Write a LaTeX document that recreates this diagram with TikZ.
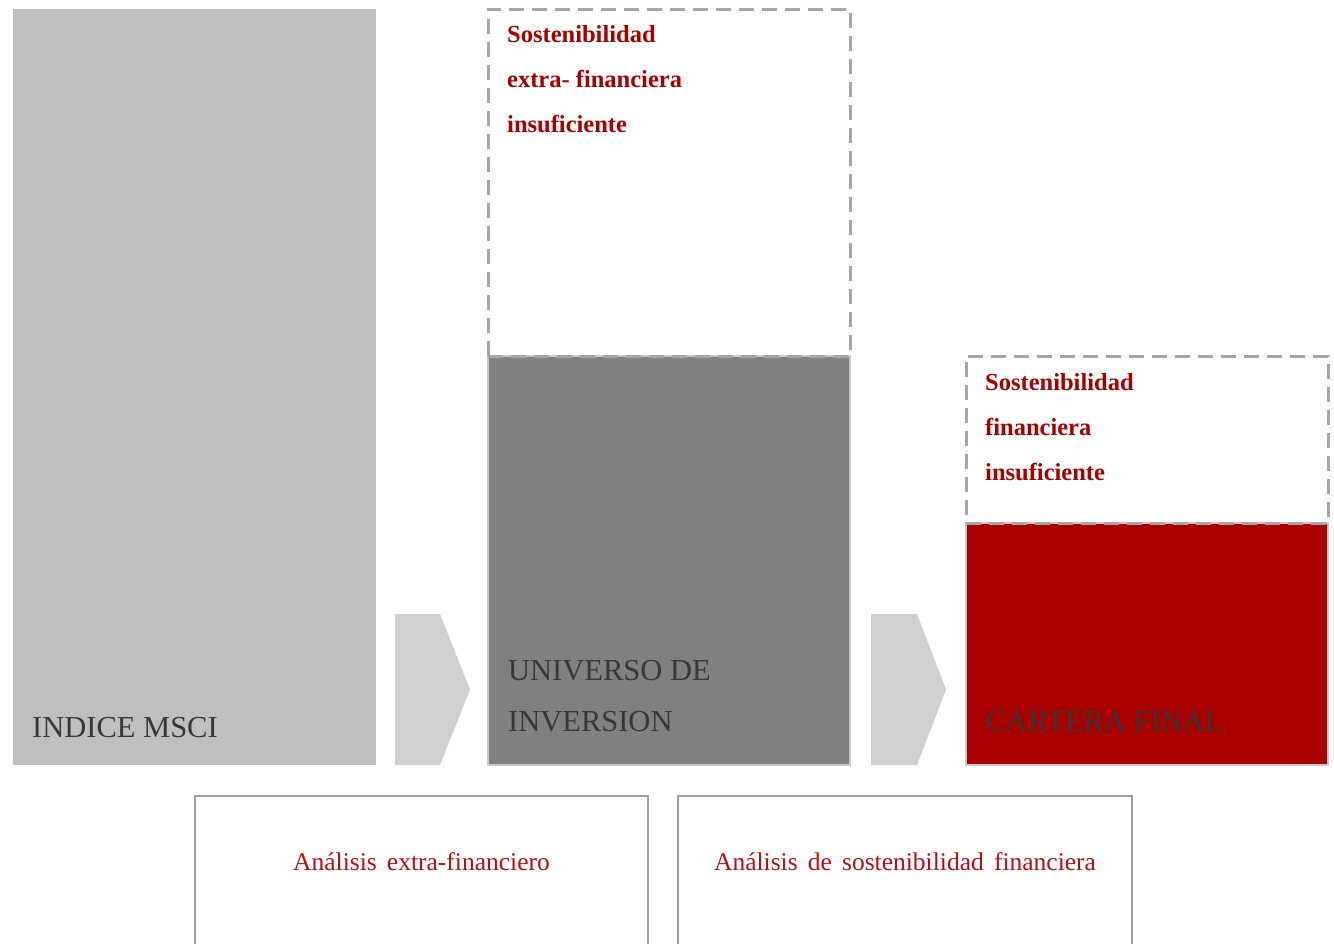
\documentclass[tikz,border=0pt]{standalone}
\usepackage{fontspec}
\setmainfont{Liberation Serif}
\newfontfamily\widefont{Liberation Serif}[WordSpace=1.6]
\definecolor{lgray}{HTML}{BFBFBF}
\definecolor{mgray}{HTML}{808080}
\definecolor{dred}{HTML}{AA0000}
\definecolor{arrowgray}{HTML}{D0D0D0}
\definecolor{dashgray}{HTML}{A6A6A6}
\definecolor{edgegray}{HTML}{C8C8C8}
\definecolor{darktext}{HTML}{383838}
\definecolor{redtext}{HTML}{A80000}
\definecolor{bottomred}{HTML}{B81010}
\definecolor{thinframe}{HTML}{A0A0A0}
\begin{document}
\begin{tikzpicture}[x=1pt,y=-1pt,
  blockbox/.style={anchor=north west, inner sep=0pt, outer sep=0pt},
  dashbox/.style={blockbox, draw=dashgray, line width=3pt, dash pattern=on 15pt off 8pt},
  solidbox/.style={blockbox, draw=edgegray, line width=2pt},
  bigtext/.style={anchor=base west, inner sep=0pt, text=darktext, font=\fontsize{30.5}{30.5}\selectfont},
  redline/.style={anchor=base west, inner sep=0pt, text=redtext, font=\bfseries\fontsize{24.5}{24.5}\selectfont},
  bottomtext/.style={anchor=base, inner sep=0pt, text=bottomred, font=\widefont\fontsize{25.5}{25.5}\selectfont},
  chevron/.style={fill=arrowgray},
  frameline/.style={draw=thinframe, line width=1.5pt}
]
\useasboundingbox (0,0) rectangle (1334,943);
\fill[white] (0,0) rectangle (1334,943);

% INDICE MSCI
\node[blockbox, fill=lgray, minimum width=363, minimum height=756] (msci) at (13,9) {};
\node[bigtext] (mscitext) at (32,737) {INDICE MSCI};

% arrow 1
\coordinate (a1) at (395,614);
\fill[chevron] (a1) -- (440,614) -- (470,689.5) -- (440,765) -- (395,765) -- cycle;

% UNIVERSO
\node[solidbox, fill=mgray, minimum width=362, minimum height=409] (univ) at (488,356) {};
\node[dashbox, minimum width=362, minimum height=347] (univdash) at (488,9) {};
\node[bigtext] (univt1) at (508,680) {UNIVERSO DE};
\node[bigtext] (univt2) at (508,731) {INVERSION};
\node[redline] (r11) at (507,42) {Sostenibilidad};
\node[redline] (r12) at (507,87) {extra- financiera};
\node[redline] (r13) at (507,132) {insuficiente};

% arrow 2
\coordinate (a2) at (871,614);
\fill[chevron] (a2) -- (917,614) -- (946,689.5) -- (917,765) -- (871,765) -- cycle;

% CARTERA FINAL
\node[solidbox, fill=dred, minimum width=362, minimum height=242] (cart) at (966,523) {};
\node[dashbox, minimum width=362, minimum height=167] (cartdash) at (966,356) {};
\node[bigtext] (cartt) at (985,731) {CARTERA FINAL};
\node[redline] (r21) at (985,390) {Sostenibilidad};
\node[redline] (r22) at (985,435) {financiera};
\node[redline] (r23) at (985,480) {insuficiente};

% bottom boxes
\node[blockbox, minimum width=453, minimum height=160] (b1) at (195,796) {};
\draw[frameline] (b1.south west) -- (b1.north west) -- (b1.north east) -- (b1.south east);
\node[bottomtext] (b1t) at (421.5,870) {Análisis extra-financiero};

\node[blockbox, minimum width=454, minimum height=160] (b2) at (678,796) {};
\draw[frameline] (b2.south west) -- (b2.north west) -- (b2.north east) -- (b2.south east);
\node[bottomtext] (b2t) at (905,870) {Análisis de sostenibilidad financiera};
\end{tikzpicture}
\end{document}
